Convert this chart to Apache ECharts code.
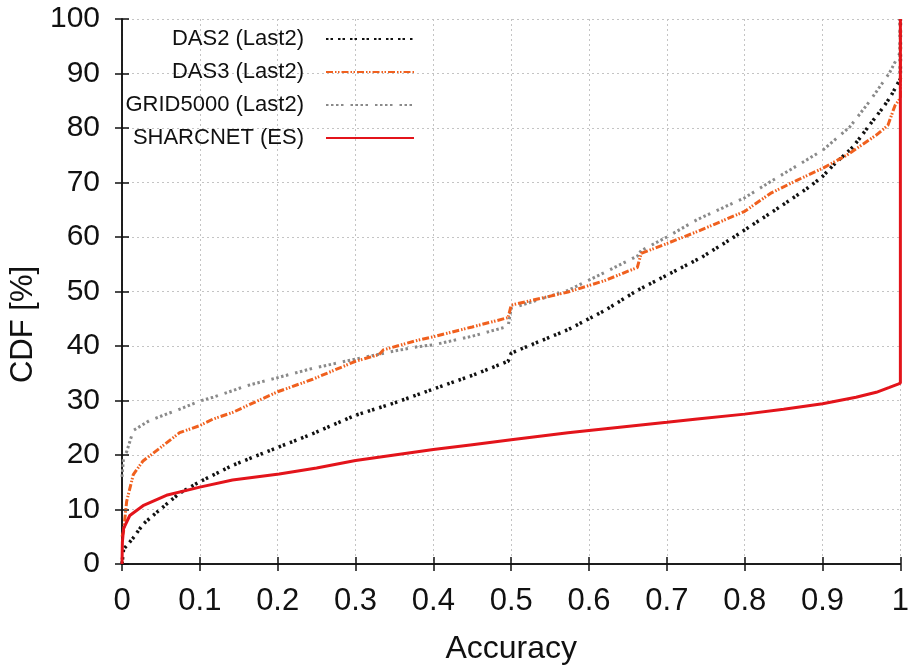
<!DOCTYPE html>
<html>
<head>
<meta charset="utf-8">
<script src="https://cdn.jsdelivr.net/npm/echarts@6/dist/echarts.min.js"></script>
<style>
html,body{margin:0;padding:0;background:#fff;}
#chart{width:912px;height:670px;}
</style>
</head>
<body>
<div id="chart"></div>
<script>
// ---- data ----
const xTickLabels = ['0','0.1','0.2','0.3','0.4','0.5','0.6','0.7','0.8','0.9','1'];
const yTickLabels = ['0','10','20','30','40','50','60','70','80','90','100'];
const seriesNames = ['DAS2 (Last2)','DAS3 (Last2)','GRID5000 (Last2)','SHARCNET (ES)'];

const das2X = [0,0.002,0.0145,0.027,0.044,0.074,0.1,0.142,0.202,0.245,0.3,0.351,0.4,0.45,0.496,0.5,0.573,0.62,0.662,0.7,0.745,0.782,0.8,0.846,0.88,0.9,0.914,0.939,0.965,0.978,0.988,0.996,1.0,1.0];
const das2Y = [0,2.7,4.8,7.3,9.4,13.0,15.1,18.1,21.5,23.9,27.3,29.6,32.1,34.6,37.2,38.7,43.0,46.5,50.2,53.0,56.3,59.6,61.3,65.6,68.9,71.1,73.2,76.5,81.4,83.8,85.9,88.0,89.0,100];

const das3X = [0,0.002,0.006,0.0145,0.027,0.048,0.074,0.1,0.117,0.142,0.16,0.2,0.245,0.3,0.33,0.336,0.381,0.4,0.45,0.496,0.5,0.573,0.62,0.662,0.667,0.7,0.739,0.8,0.833,0.867,0.9,0.931,0.969,0.984,0.993,1.0,1.0];
const das3Y = [5,6.0,11.5,16.4,18.9,21.2,24.1,25.4,26.6,27.8,29.0,31.6,33.9,37.2,38.4,39.3,41.1,41.7,43.5,45.2,47.5,49.9,52.0,54.4,57.0,58.8,61.0,64.7,68.0,70.4,72.6,75.0,78.7,80.5,84.1,85.5,100];

const gridX = [0,0.002,0.006,0.0145,0.035,0.057,0.074,0.1,0.117,0.142,0.16,0.2,0.245,0.3,0.347,0.381,0.4,0.45,0.496,0.5,0.573,0.62,0.662,0.667,0.7,0.739,0.8,0.829,0.9,0.935,0.961,0.986,0.995,1.0,1.0];
const gridY = [16,19.5,20.6,24.5,26.3,27.5,28.4,29.9,30.6,31.8,32.7,34.2,35.9,37.6,39.0,39.9,40.2,41.8,43.6,46.9,50.2,53.5,56.5,57.5,60.0,63.2,67.2,69.8,75.9,80.2,85.0,90.1,92.6,94.0,100];

const sharcX = [0,0.0005,0.002,0.01,0.027,0.057,0.1,0.142,0.202,0.25,0.3,0.35,0.4,0.45,0.5,0.573,0.6,0.7,0.739,0.8,0.85,0.9,0.943,0.969,0.986,0.997,1.0,1.0];
const sharcY = [0,4,6.5,8.9,10.7,12.6,14.1,15.4,16.5,17.6,19.0,20.0,21.0,21.9,22.8,24.1,24.5,26.0,26.6,27.5,28.4,29.4,30.6,31.5,32.4,33.0,33.2,100];

// ---- build ----
const pairs = (xs, ys) => xs.map((x, i) => [x, ys[i]]);
const FONT = "'Liberation Sans', Arial, Helvetica, sans-serif";

const chart = echarts.init(document.getElementById('chart'), null, {renderer: 'canvas'});

const axisCommon = {
  type: 'value',
  axisLine: {show: true, lineStyle: {color: '#111', width: 1.5}},
  axisTick: {show: true, inside: true, length: 7, lineStyle: {color: '#111', width: 1.5}},
  splitLine: {show: false}
};

const option = {
  animation: false,
  backgroundColor: '#fff',
  grid: {left: 122, right: 8, top: 19, bottom: 100, containLabel: false},
  legend: {
    orient: 'vertical',
    align: 'right',
    right: 492,
    top: 23,
    itemWidth: 88,
    itemHeight: 14,
    itemGap: 11,
    data: seriesNames,
    itemStyle: {opacity: 0},
    textStyle: {fontFamily: FONT, fontSize: 22, color: '#111', padding: [0, 17, 0, 0]}
  },
  xAxis: [
    Object.assign({}, axisCommon, {
      min: 0, max: 1, interval: 0.1, position: 'bottom',
      name: 'Accuracy', nameLocation: 'middle', nameGap: 69,
      nameTextStyle: {fontFamily: FONT, fontSize: 32, color: '#111'},
      axisLabel: {show: true, margin: 22, fontFamily: FONT, fontSize: 31, color: '#111',
        formatter: v => xTickLabels[Math.round(v * 10)]},
      splitLine: {show: true, lineStyle: {color: '#c4c4c4', type: [2, 3], width: 1}}
    }),
    Object.assign({}, axisCommon, {
      min: 0, max: 1, interval: 0.1, position: 'top',
      axisLabel: {show: false}
    })
  ],
  yAxis: [
    Object.assign({}, axisCommon, {
      min: 0, max: 100, interval: 10, position: 'left',
      name: 'CDF [%]', nameLocation: 'middle', nameGap: 80, nameRotate: 90,
      nameTextStyle: {fontFamily: FONT, fontSize: 31, color: '#111', padding: [0, 66, 0, 0]},
      axisLabel: {show: true, margin: 22, fontFamily: FONT, fontSize: 30, color: '#111',
        formatter: v => yTickLabels[Math.round(v / 10)]},
      splitLine: {show: true, lineStyle: {color: '#c4c4c4', type: [2, 3], width: 1}}
    }),
    Object.assign({}, axisCommon, {
      min: 0, max: 100, interval: 10, position: 'right',
      axisLabel: {show: false}
    })
  ],
  series: [
    {
      name: seriesNames[0], type: 'line', data: pairs(das2X, das2Y),
      showSymbol: false, symbol: 'none', smooth: false, z: 3,
      lineStyle: {color: '#111', width: 3.5, type: [2.5, 2, 2.5, 5], cap: 'butt'},
      itemStyle: {color: '#111'}
    },
    {
      name: seriesNames[1], type: 'line', data: pairs(das3X, das3Y),
      showSymbol: false, symbol: 'none', smooth: false, z: 4,
      lineStyle: {color: '#f0601e', width: 3, type: [7, 2, 1.5, 1.5, 1.5, 2], cap: 'butt'},
      itemStyle: {color: '#f0601e'}
    },
    {
      name: seriesNames[2], type: 'line', data: pairs(gridX, gridY),
      showSymbol: false, symbol: 'none', smooth: false, z: 2,
      lineStyle: {color: '#8a8a8a', width: 3, type: [2.5, 2.5, 2.5, 2.5, 2.5, 2.5, 2.5, 7], cap: 'butt'},
      itemStyle: {color: '#8a8a8a'}
    },
    {
      name: seriesNames[3], type: 'line', data: pairs(sharcX, sharcY),
      showSymbol: false, symbol: 'none', smooth: false, z: 5,
      lineStyle: {color: '#e3141b', width: 3, type: 'solid'},
      itemStyle: {color: '#e3141b'}
    }
  ]
};
chart.setOption(option);
</script>
</body>
</html>
